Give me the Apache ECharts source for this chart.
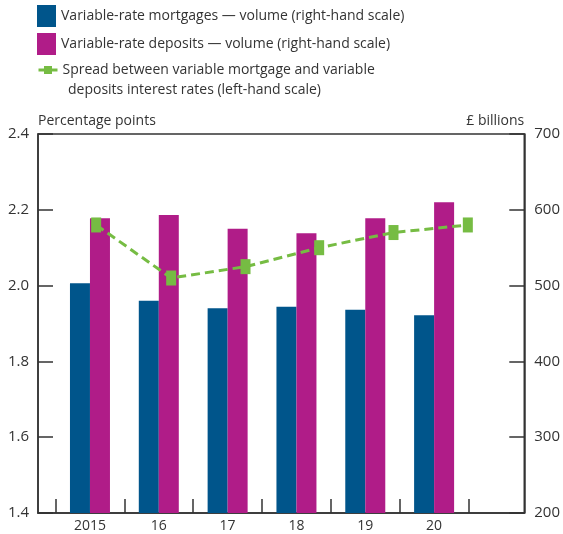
<!DOCTYPE html>
<html>
<head>
<meta charset="utf-8">
<script src="https://cdn.jsdelivr.net/npm/echarts@6/dist/echarts.min.js"></script>
<style>
  html, body { margin: 0; padding: 0; background: #fff; }
  #chart { width: 563px; height: 534px; }
</style>
</head>
<body>
<div id="chart"></div>
<script>
// data
const years = ['2015', '16', '17', '18', '19', '20'];
const yearPos = [0, 1, 2, 3, 4, 5];
const mortgageVolume = [503, 480, 470, 472, 468, 461]; // £ billions, right-hand scale
const depositVolume = [589, 593, 575, 569, 589, 610];  // £ billions, right-hand scale
const spreadPos = [0.09, 1.18, 2.26, 3.33, 4.41, 5.49]; // line points sit a bit off the bar pairs
const spread = [2.16, 2.02, 2.05, 2.10, 2.14, 2.16];   // percentage points, left-hand scale

const BLUE = '#00558b';
const MAGENTA = '#b01c88';
const GREEN = '#76bc43';
const INK = '#333';
const FONT = 'Open Sans';

const chart = echarts.init(document.getElementById('chart'));

// ticks between the years
const tickEdges = years.map((y, i) => i - 0.5).concat([years.length - 0.5]);

const option = {
  animation: false,
  textStyle: { fontFamily: FONT },
  grid: {
    left: 38, right: 35, top: 134, bottom: 21,
    show: true, borderColor: INK, borderWidth: 1.5
  },
  legend: [
    {
      orient: 'vertical', left: 37, top: 5, padding: 0,
      icon: 'rect', itemWidth: 19, itemHeight: 22, itemGap: 6,
      textStyle: { fontFamily: FONT, fontSize: 14, color: INK },
      data: ['Variable-rate mortgages — volume (right-hand scale)', 'Variable-rate deposits — volume (right-hand scale)']
    },
    {
      orient: 'vertical', left: 37, top: 60, padding: 0,
      itemWidth: 19, itemHeight: 10,
      lineStyle: { type: 'solid', width: 3 },
      textStyle: { fontFamily: FONT, fontSize: 14, color: INK, lineHeight: 20 },
      data: ['Spread between variable mortgage and variable']
    }
  ],
  graphic: [
    {
      type: 'text', left: 68, top: 83,
      style: { text: 'deposits interest rates (left-hand scale)', font: '14px "Open Sans"', fill: INK }
    }
  ],
  xAxis: {
    type: 'value', min: -0.755, max: 6.31,
    axisLine: { show: true, onZero: false, lineStyle: { color: INK, width: 1.5 } },
    splitLine: { show: false },
    axisTick: { show: true, inside: true, length: 14, customValues: tickEdges, lineStyle: { color: INK, width: 1.5 } },
    axisLabel: {
      customValues: yearPos, margin: 6, fontSize: 14, color: INK, fontFamily: FONT,
      formatter: v => years[Math.round(v)]
    }
  },
  yAxis: [
    {
      type: 'value', min: 1.4, max: 2.4, interval: 0.2, position: 'left',
      name: 'Percentage points', nameLocation: 'end', nameGap: 13,
      nameTextStyle: { align: 'left', verticalAlign: 'middle', fontSize: 14, color: INK, fontFamily: FONT },
      axisLine: { show: true, onZero: false, lineStyle: { color: INK, width: 1.5 } },
      axisTick: { show: true, inside: true, length: 15, lineStyle: { color: INK, width: 1.5 } },
      axisLabel: { margin: 9, fontSize: 15, color: INK, fontFamily: FONT, formatter: v => v.toFixed(1) },
      splitLine: { show: false }
    },
    {
      type: 'value', min: 200, max: 700, interval: 100, position: 'right',
      name: '£ billions', nameLocation: 'end', nameGap: 13,
      nameTextStyle: { align: 'right', verticalAlign: 'middle', fontSize: 14, color: INK, fontFamily: FONT },
      axisLine: { show: true, onZero: false, lineStyle: { color: INK, width: 1.5 } },
      axisTick: { show: true, inside: true, length: 15, lineStyle: { color: INK, width: 1.5 } },
      axisLabel: { margin: 10, fontSize: 15, color: INK, fontFamily: FONT },
      splitLine: { show: false }
    }
  ],
  series: [
    {
      name: 'Variable-rate mortgages — volume (right-hand scale)',
      type: 'bar', yAxisIndex: 1, barWidth: 20, barGap: '0%',
      itemStyle: { color: BLUE },
      data: yearPos.map((x, i) => [x, mortgageVolume[i]])
    },
    {
      name: 'Variable-rate deposits — volume (right-hand scale)',
      type: 'bar', yAxisIndex: 1, barWidth: 20, barGap: '0%',
      itemStyle: { color: MAGENTA },
      data: yearPos.map((x, i) => [x, depositVolume[i]])
    },
    {
      name: 'Spread between variable mortgage and variable',
      type: 'line', yAxisIndex: 0, z: 5,
      symbol: 'rect', symbolSize: [10, 15],
      itemStyle: { color: GREEN },
      lineStyle: { color: GREEN, width: 3, type: [9, 5] },
      data: spreadPos.map((x, i) => [x, spread[i]])
    }
  ]
};

chart.setOption(option);
</script>
</body>
</html>
